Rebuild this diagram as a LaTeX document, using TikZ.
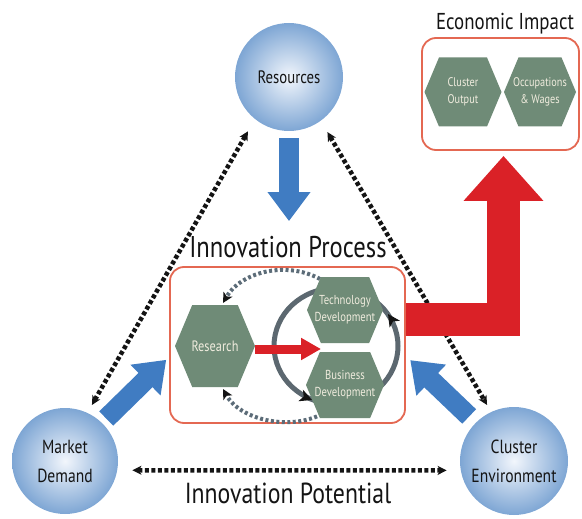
\documentclass[tikz,border=0pt]{standalone}
\usepackage{fontspec}
\setmainfont[FakeStretch=0.82]{PT Sans}
\usetikzlibrary{arrows.meta,calc}
\definecolor{bubbleout}{RGB}{126,166,212}
\definecolor{bubblein}{RGB}{242,246,252}
\definecolor{bluearrow}{RGB}{64,124,194}
\definecolor{redarrow}{RGB}{218,33,39}
\definecolor{boxline}{RGB}{228,104,82}
\definecolor{hexgreen}{RGB}{111,139,119}
\definecolor{hexink}{RGB}{240,236,222}
\definecolor{cyclegray}{RGB}{92,104,112}
\definecolor{dotgray}{RGB}{92,108,120}
\definecolor{inkblack}{RGB}{20,20,20}
\newcommand\hexnode[8]{%
  \fill[hexgreen] (#2-#4/2,#3) -- (#2-#4/2+0.21*#5,#3-#5/2) -- (#2+#4/2-0.21*#5,#3-#5/2)
    -- (#2+#4/2,#3) -- (#2+#4/2-0.21*#5,#3+#5/2) -- (#2-#4/2+0.21*#5,#3+#5/2) -- cycle;
  \node[hextext, font=\fontsize{#7}{#8}\selectfont] (#1) at (#2,#3) {#6};}
\begin{document}
\begin{tikzpicture}[x=1pt,y=-1pt,
  bubble/.style={circle, shading=radial, inner color=bubblein, outer color=bubbleout,
    minimum size=#1, inner sep=0pt, align=center, text=inkblack},
  dotline/.style={line width=4.5pt, dash pattern=on 4pt off 2.5pt, inkblack,
    {Stealth[length=9pt,width=9pt,inset=2.5pt]}-{Stealth[length=9pt,width=9pt,inset=2.5pt]}},
  bluearr/.style={line width=20pt, bluearrow, -{Triangle[length=29pt,width=41pt]}},
  redelbow/.style={line width=33pt, redarrow, line join=miter, -{Triangle[length=45pt,width=77pt]}},
  redsmall/.style={line width=9pt, redarrow, -{Triangle[length=20pt,width=21pt]}},
  roundbox/.style={draw=boxline, line width=1.8pt, rounded corners=14pt, fill=white, inner sep=0pt},
  hextext/.style={text=hexink, align=center, inner sep=0pt},
  graydots/.style={dotgray, line width=4pt, dash pattern=on 3pt off 2.5pt,
    -{Stealth[length=10pt,width=10pt,inset=2.5pt,color=inkblack]}},
  cycletip/.style={cyclegray, line width=5pt, -{Stealth[length=12pt,width=12pt,inset=3pt,color=inkblack]}},
  title/.style={anchor=base, text=inkblack, inner sep=0pt}
]
\useasboundingbox (0,0) rectangle (582,519);

% circles
\node[bubble=108pt, font=\fontsize{18}{24}\selectfont] (res) at (289,77) {Resources};
\node[bubble=106pt, font=\fontsize{19}{29}\selectfont] (mkt) at (65,461) {Market\\Demand};
\node[bubble=108pt, font=\fontsize{19}{29}\selectfont] (clu) at (514,461) {Cluster\\Environment};

% boxes
\node[roundbox, minimum width=235pt, minimum height=156pt] (proc) at (287.5,345) {};
\node[roundbox, minimum width=157pt, minimum height=112pt] (econ) at (500.5,94) {};

% dotted black connectors
\draw[dotline, shorten <=9pt, shorten >=14pt] (mkt.65) -- (res.231);
\draw[dotline, shorten <=13pt, shorten >=8pt] (res.306) -- (clu.115);
\draw[dotline, shorten <=15pt, shorten >=14pt] (mkt.-10) -- (clu.190);

% blue arrows
\draw[bluearr, shorten <=7pt, shorten >=45pt] (res.south) -- (res.south |- proc.north);
\draw[bluearr, shorten <=6pt, shorten >=4pt] (mkt.46) -- (proc.west |- 0,357);
\draw[bluearr, shorten <=9pt, shorten >=6pt] (clu.135) -- (proc.east |- 0,356);

% red elbow arrow
\draw[redelbow, shorten >=5pt] (proc.east |- 0,319.5) -| ([xshift=3pt]econ.south);

% innovation cycle
\coordinate (cyc) at (336,346);
\draw[cyclegray, line width=5pt] (cyc) ellipse[x radius=62, y radius=58];
\draw[graydots] (320,279) .. controls (285,260) and (240,273) .. (223,303);
\draw[graydots] (322,414) .. controls (290,431) and (240,420) .. (223,389);

% hexagons
\hexnode{research}{215}{346}{80}{82}{Research}{15}{19}
\hexnode{tech}{345}{310}{76}{66}{Technology\\Development}{13}{17}
\hexnode{busi}{345}{385}{78}{66}{Business\\Development}{13}{17}
\hexnode{cout}{463}{92}{77}{69}{Cluster\\Output}{12.5}{17}
\hexnode{occ}{540}{92}{72}{69}{Occupations\\\& Wages}{12.5}{17}

% red arrow research -> development
\coordinate (ra) at (255,349);
\coordinate (rb) at (321,349);
\draw[redsmall] (ra) -- (rb);

% cycle arrow heads
\coordinate (ta) at (392,320);
\coordinate (tb) at (388,314);
\draw[cycletip] (ta) -- (tb);
\coordinate (tc) at (305.5,397.4);
\coordinate (td) at (312,400);
\draw[cycletip] (tc) -- (td);

% titles
\node[title, font=\fontsize{30}{30}\selectfont] (ptitle) at (288,258) {Innovation Process};
\node[title, font=\fontsize{23}{23}\selectfont] (etitle) at (505,30) {Economic Impact};
\node[title, font=\fontsize{29}{29}\selectfont] (ptl) at (288,503) {Innovation Potential};
\end{tikzpicture}
\end{document}
